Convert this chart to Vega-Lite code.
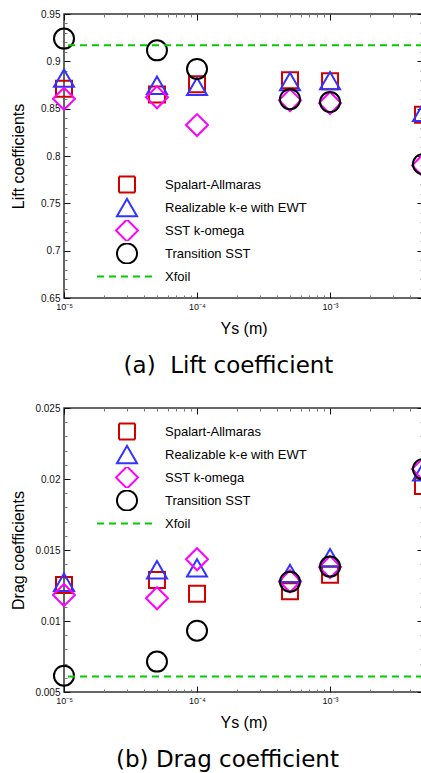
{
  "$schema": "https://vega.github.io/schema/vega-lite/v6.json",
  "padding": {"left": 9, "top": 8, "right": 0, "bottom": 0},
  "background": "white",
  "spacing": 23,
  "config": {
    "font": "Liberation Sans",
    "view": {"stroke": "#333", "strokeWidth": 1.5},
    "axis": {"grid": false, "domain": false, "labelFont": "Liberation Sans", "labelFontSize": 10, "labelColor": "#111", "titleFont": "Liberation Sans", "titleFontSize": 16, "titleFontWeight": "normal", "titleColor": "#000", "labelFlush": false, "labelOverlap": false},
    "legend": {"labelFont": "Liberation Sans", "labelFontSize": 13, "labelColor": "#000", "symbolStrokeWidth": 2, "labelOffset": 26, "symbolOffset": 20, "rowPadding": 2, "clipHeight": 21}
  },
  "datasets": {
    "lift": [
      {"model": "Spalart-Allmaras", "ys": 0.00001, "value": 0.871},
      {"model": "Spalart-Allmaras", "ys": 0.00005, "value": 0.865},
      {"model": "Spalart-Allmaras", "ys": 0.0001, "value": 0.8757},
      {"model": "Spalart-Allmaras", "ys": 0.0005, "value": 0.880},
      {"model": "Spalart-Allmaras", "ys": 0.001, "value": 0.879},
      {"model": "Spalart-Allmaras", "ys": 0.005, "value": 0.8436},
      {"model": "Realizable k-e with EWT", "ys": 0.00001, "value": 0.8823},
      {"model": "Realizable k-e with EWT", "ys": 0.00005, "value": 0.8747},
      {"model": "Realizable k-e with EWT", "ys": 0.0001, "value": 0.8736},
      {"model": "Realizable k-e with EWT", "ys": 0.0005, "value": 0.8787},
      {"model": "Realizable k-e with EWT", "ys": 0.001, "value": 0.8797},
      {"model": "Realizable k-e with EWT", "ys": 0.005, "value": 0.846},
      {"model": "SST k-omega", "ys": 0.00001, "value": 0.8605},
      {"model": "SST k-omega", "ys": 0.00005, "value": 0.862},
      {"model": "SST k-omega", "ys": 0.0001, "value": 0.8327},
      {"model": "SST k-omega", "ys": 0.0005, "value": 0.859},
      {"model": "SST k-omega", "ys": 0.001, "value": 0.856},
      {"model": "SST k-omega", "ys": 0.005, "value": 0.79},
      {"model": "Transition SST", "ys": 0.00001, "value": 0.924},
      {"model": "Transition SST", "ys": 0.00005, "value": 0.9116},
      {"model": "Transition SST", "ys": 0.0001, "value": 0.892},
      {"model": "Transition SST", "ys": 0.0005, "value": 0.860},
      {"model": "Transition SST", "ys": 0.001, "value": 0.857},
      {"model": "Transition SST", "ys": 0.005, "value": 0.7914},
      {"model": "Xfoil", "value": 0.917}
    ],
    "drag": [
      {"model": "Spalart-Allmaras", "ys": 0.00001, "value": 0.01254},
      {"model": "Spalart-Allmaras", "ys": 0.00005, "value": 0.01289},
      {"model": "Spalart-Allmaras", "ys": 0.0001, "value": 0.01192},
      {"model": "Spalart-Allmaras", "ys": 0.0005, "value": 0.0121},
      {"model": "Spalart-Allmaras", "ys": 0.001, "value": 0.01326},
      {"model": "Spalart-Allmaras", "ys": 0.005, "value": 0.0195},
      {"model": "Realizable k-e with EWT", "ys": 0.00001, "value": 0.01273},
      {"model": "Realizable k-e with EWT", "ys": 0.00005, "value": 0.01361},
      {"model": "Realizable k-e with EWT", "ys": 0.0001, "value": 0.01374},
      {"model": "Realizable k-e with EWT", "ys": 0.0005, "value": 0.01336},
      {"model": "Realizable k-e with EWT", "ys": 0.001, "value": 0.01446},
      {"model": "Realizable k-e with EWT", "ys": 0.005, "value": 0.0205},
      {"model": "SST k-omega", "ys": 0.00001, "value": 0.01183},
      {"model": "SST k-omega", "ys": 0.00005, "value": 0.0116},
      {"model": "SST k-omega", "ys": 0.0001, "value": 0.01435},
      {"model": "SST k-omega", "ys": 0.0005, "value": 0.0128},
      {"model": "SST k-omega", "ys": 0.001, "value": 0.0138},
      {"model": "SST k-omega", "ys": 0.005, "value": 0.0207},
      {"model": "Transition SST", "ys": 0.00001, "value": 0.00615},
      {"model": "Transition SST", "ys": 0.00005, "value": 0.00714},
      {"model": "Transition SST", "ys": 0.0001, "value": 0.00932},
      {"model": "Transition SST", "ys": 0.0005, "value": 0.01277},
      {"model": "Transition SST", "ys": 0.001, "value": 0.01383},
      {"model": "Transition SST", "ys": 0.005, "value": 0.0207},
      {"model": "Xfoil", "value": 0.0061}
    ]
  },
  "vconcat": [
    {
      "width": 359, "height": 284,
      "data": {"name": "lift"},
      "title": {"text": "(a)\u00a0 Lift coefficient", "orient": "bottom", "anchor": "middle", "frame": "group", "fontSize": 23, "fontWeight": "normal", "font": "DejaVu Sans", "color": "#000", "dx": -15, "offset": 19},
      "layer": [
        {
          "transform": [{"filter": "datum.model == 'Spalart-Allmaras'"}],
          "mark": {"type": "point", "filled": false, "strokeWidth": 2, "opacity": 1},
          "encoding": {
            "x": {"field": "ys", "type": "quantitative", "scale": {"type": "log", "domain": [0.00001, 0.005], "nice": false},
              "axis": {"orient": "bottom", "title": "Ys (m)", "titlePadding": 6, "labelFontSize": 9, "values": [0.00001,0.00002,0.00003,0.00004,0.00005,0.00006,0.00007,0.00008,0.00009,0.0001,0.0002,0.0003,0.0004,0.0005,0.0006,0.0007,0.0008,0.0009,0.001,0.002,0.003,0.004,0.005],
                "tickSize": {"condition": {"test": "abs(log(datum.value)/LN10 - round(log(datum.value)/LN10)) < 0.001", "value": -6}, "value": -3},
                "tickColor": {"condition": {"test": "abs(log(datum.value)/LN10 - round(log(datum.value)/LN10)) < 0.001", "value": "#111"}, "value": "#777"},
                "labelPadding": 10,
                "labelExpr": "datum.value < 0.000015 ? '10⁻⁵' : (abs(datum.value - 0.0001) < 0.000001 ? '10⁻⁴' : (abs(datum.value - 0.001) < 0.00001 ? '10⁻³' : ''))"}},
            "y": {"field": "value", "type": "quantitative", "scale": {"domain": [0.65, 0.95], "nice": false, "zero": false},
              "axis": {"orient": "left", "title": "Lift coefficients", "titlePadding": 8, "format": "~g", "minExtent": 30, "maxExtent": 30,
                "values": [0.65,0.66,0.67,0.68,0.69,0.7,0.71,0.72,0.73,0.74,0.75,0.76,0.77,0.78,0.79,0.8,0.81,0.82,0.83,0.84,0.85,0.86,0.87,0.88,0.89,0.9,0.91,0.92,0.93,0.94,0.95],
                "tickSize": {"condition": {"test": "abs(datum.value*20 - round(datum.value*20)) < 0.001", "value": -6}, "value": -3},
                "tickColor": {"condition": {"test": "abs(datum.value*20 - round(datum.value*20)) < 0.001", "value": "#111"}, "value": "#777"},
                "labelPadding": 10,
                "labelExpr": "abs(datum.value*20 - round(datum.value*20)) < 0.001 ? datum.label : ''"}},
            "color": {"field": "model", "type": "nominal", "scale": {"domain": ["Spalart-Allmaras", "Realizable k-e with EWT", "SST k-omega", "Transition SST", "Xfoil"], "range": ["#d00000", "#3333ff", "#ff00ff", "#000000", "#00cc00"]},
              "legend": {"title": null, "orient": "none", "legendX": 31, "legendY": 160}},
            "shape": {"field": "model", "type": "nominal", "scale": {"domain": ["Spalart-Allmaras", "Realizable k-e with EWT", "SST k-omega", "Transition SST", "Xfoil"], "range": ["square", "triangle-up", "diamond", "circle", "M-3,0H3"]}},
            "size": {"field": "model", "type": "nominal", "scale": {"type": "ordinal", "domain": ["Spalart-Allmaras", "Realizable k-e with EWT", "SST k-omega", "Transition SST", "Xfoil"], "range": [256, 400, 484, 400, 400]}}
          }
        },
        {
          "transform": [{"filter": "datum.model == 'Realizable k-e with EWT'"}],
          "mark": {"type": "point", "filled": false, "strokeWidth": 2, "opacity": 1},
          "encoding": {
            "x": {"field": "ys", "type": "quantitative", "scale": {"type": "log", "domain": [0.00001, 0.005], "nice": false},
              "axis": {"orient": "top", "title": null, "labels": false, "values": [0.00001,0.00002,0.00003,0.00004,0.00005,0.00006,0.00007,0.00008,0.00009,0.0001,0.0002,0.0003,0.0004,0.0005,0.0006,0.0007,0.0008,0.0009,0.001,0.002,0.003,0.004,0.005],
                "tickSize": {"condition": {"test": "abs(log(datum.value)/LN10 - round(log(datum.value)/LN10)) < 0.001", "value": -6}, "value": -3},
                "tickColor": {"condition": {"test": "abs(log(datum.value)/LN10 - round(log(datum.value)/LN10)) < 0.001", "value": "#111"}, "value": "#777"}}},
            "y": {"field": "value", "type": "quantitative", "scale": {"domain": [0.65, 0.95], "nice": false, "zero": false},
              "axis": {"orient": "right", "title": null, "labels": false,
                "values": [0.65,0.66,0.67,0.68,0.69,0.7,0.71,0.72,0.73,0.74,0.75,0.76,0.77,0.78,0.79,0.8,0.81,0.82,0.83,0.84,0.85,0.86,0.87,0.88,0.89,0.9,0.91,0.92,0.93,0.94,0.95],
                "tickSize": {"condition": {"test": "abs(datum.value*20 - round(datum.value*20)) < 0.001", "value": -6}, "value": -3},
                "tickColor": {"condition": {"test": "abs(datum.value*20 - round(datum.value*20)) < 0.001", "value": "#111"}, "value": "#777"}}},
            "color": {"field": "model", "type": "nominal", "scale": {"domain": ["Spalart-Allmaras", "Realizable k-e with EWT", "SST k-omega", "Transition SST", "Xfoil"], "range": ["#d00000", "#3333ff", "#ff00ff", "#000000", "#00cc00"]}},
            "shape": {"field": "model", "type": "nominal", "scale": {"domain": ["Spalart-Allmaras", "Realizable k-e with EWT", "SST k-omega", "Transition SST", "Xfoil"], "range": ["square", "triangle-up", "diamond", "circle", "M-3,0H3"]}},
            "size": {"field": "model", "type": "nominal", "scale": {"type": "ordinal", "domain": ["Spalart-Allmaras", "Realizable k-e with EWT", "SST k-omega", "Transition SST", "Xfoil"], "range": [256, 400, 484, 400, 400]}}
          }
        },
        {
          "transform": [{"filter": "datum.model == 'SST k-omega'"}],
          "mark": {"type": "point", "filled": false, "strokeWidth": 2, "opacity": 1},
          "encoding": {
            "x": {"field": "ys", "type": "quantitative", "scale": {"type": "log", "domain": [0.00001, 0.005], "nice": false}, "axis": null},
            "y": {"field": "value", "type": "quantitative", "scale": {"domain": [0.65, 0.95], "nice": false, "zero": false}, "axis": null},
            "color": {"field": "model", "type": "nominal", "scale": {"domain": ["Spalart-Allmaras", "Realizable k-e with EWT", "SST k-omega", "Transition SST", "Xfoil"], "range": ["#d00000", "#3333ff", "#ff00ff", "#000000", "#00cc00"]}},
            "shape": {"field": "model", "type": "nominal", "scale": {"domain": ["Spalart-Allmaras", "Realizable k-e with EWT", "SST k-omega", "Transition SST", "Xfoil"], "range": ["square", "triangle-up", "diamond", "circle", "M-3,0H3"]}},
            "size": {"field": "model", "type": "nominal", "scale": {"type": "ordinal", "domain": ["Spalart-Allmaras", "Realizable k-e with EWT", "SST k-omega", "Transition SST", "Xfoil"], "range": [256, 400, 484, 400, 400]}}
          }
        },
        {
          "transform": [{"filter": "datum.model == 'Transition SST'"}],
          "mark": {"type": "point", "filled": false, "strokeWidth": 2, "opacity": 1},
          "encoding": {
            "x": {"field": "ys", "type": "quantitative", "scale": {"type": "log", "domain": [0.00001, 0.005], "nice": false}, "axis": null},
            "y": {"field": "value", "type": "quantitative", "scale": {"domain": [0.65, 0.95], "nice": false, "zero": false}, "axis": null},
            "color": {"field": "model", "type": "nominal", "scale": {"domain": ["Spalart-Allmaras", "Realizable k-e with EWT", "SST k-omega", "Transition SST", "Xfoil"], "range": ["#d00000", "#3333ff", "#ff00ff", "#000000", "#00cc00"]}},
            "shape": {"field": "model", "type": "nominal", "scale": {"domain": ["Spalart-Allmaras", "Realizable k-e with EWT", "SST k-omega", "Transition SST", "Xfoil"], "range": ["square", "triangle-up", "diamond", "circle", "M-3,0H3"]}},
            "size": {"field": "model", "type": "nominal", "scale": {"type": "ordinal", "domain": ["Spalart-Allmaras", "Realizable k-e with EWT", "SST k-omega", "Transition SST", "Xfoil"], "range": [256, 400, 484, 400, 400]}}
          }
        },
        {
          "transform": [{"filter": "datum.model == 'Xfoil'"}],
          "mark": {"type": "rule", "strokeWidth": 2},
          "encoding": {
            "y": {"field": "value", "type": "quantitative", "scale": {"domain": [0.65, 0.95], "nice": false, "zero": false}, "axis": null},
            "color": {"field": "model", "type": "nominal", "scale": {"domain": ["Spalart-Allmaras", "Realizable k-e with EWT", "SST k-omega", "Transition SST", "Xfoil"], "range": ["#d00000", "#3333ff", "#ff00ff", "#000000", "#00cc00"]}},
            "strokeDash": {"field": "model", "type": "nominal", "scale": {"domain": ["Spalart-Allmaras", "Realizable k-e with EWT", "SST k-omega", "Transition SST", "Xfoil"], "range": [[1,0],[1,0],[1,0],[1,0],[7,5]]}}
          }
        }
      ],
      "resolve": {"axis": {"x": "independent", "y": "independent"}}
    },
    {
      "width": 359, "height": 284,
      "data": {"name": "drag"},
      "title": {"text": "(b) Drag coefficient", "orient": "bottom", "anchor": "middle", "frame": "group", "fontSize": 23, "fontWeight": "normal", "font": "DejaVu Sans", "color": "#000", "dx": -16, "offset": 19},
      "layer": [
        {
          "transform": [{"filter": "datum.model == 'Spalart-Allmaras'"}],
          "mark": {"type": "point", "filled": false, "strokeWidth": 2, "opacity": 1},
          "encoding": {
            "x": {"field": "ys", "type": "quantitative", "scale": {"type": "log", "domain": [0.00001, 0.005], "nice": false},
              "axis": {"orient": "bottom", "title": "Ys (m)", "titlePadding": 6, "labelFontSize": 9, "values": [0.00001,0.00002,0.00003,0.00004,0.00005,0.00006,0.00007,0.00008,0.00009,0.0001,0.0002,0.0003,0.0004,0.0005,0.0006,0.0007,0.0008,0.0009,0.001,0.002,0.003,0.004,0.005],
                "tickSize": {"condition": {"test": "abs(log(datum.value)/LN10 - round(log(datum.value)/LN10)) < 0.001", "value": -6}, "value": -3},
                "tickColor": {"condition": {"test": "abs(log(datum.value)/LN10 - round(log(datum.value)/LN10)) < 0.001", "value": "#111"}, "value": "#777"},
                "labelPadding": 10,
                "labelExpr": "datum.value < 0.000015 ? '10⁻⁵' : (abs(datum.value - 0.0001) < 0.000001 ? '10⁻⁴' : (abs(datum.value - 0.001) < 0.00001 ? '10⁻³' : ''))"}},
            "y": {"field": "value", "type": "quantitative", "scale": {"domain": [0.005, 0.025], "nice": false, "zero": false},
              "axis": {"orient": "left", "title": "Drag coefficients", "titlePadding": 8, "format": "~g", "minExtent": 30, "maxExtent": 30,
                "values": [0.005,0.006,0.007,0.008,0.009,0.01,0.011,0.012,0.013,0.014,0.015,0.016,0.017,0.018,0.019,0.02,0.021,0.022,0.023,0.024,0.025],
                "tickSize": {"condition": {"test": "abs(datum.value*200 - round(datum.value*200)) < 0.001", "value": -6}, "value": -3},
                "tickColor": {"condition": {"test": "abs(datum.value*200 - round(datum.value*200)) < 0.001", "value": "#111"}, "value": "#777"},
                "labelPadding": 10,
                "labelExpr": "abs(datum.value*200 - round(datum.value*200)) < 0.001 ? datum.label : ''"}},
            "color": {"field": "model", "type": "nominal", "scale": {"domain": ["Spalart-Allmaras", "Realizable k-e with EWT", "SST k-omega", "Transition SST", "Xfoil"], "range": ["#d00000", "#3333ff", "#ff00ff", "#000000", "#00cc00"]},
              "legend": {"title": null, "orient": "none", "legendX": 31, "legendY": 13}},
            "shape": {"field": "model", "type": "nominal", "scale": {"domain": ["Spalart-Allmaras", "Realizable k-e with EWT", "SST k-omega", "Transition SST", "Xfoil"], "range": ["square", "triangle-up", "diamond", "circle", "M-3,0H3"]}},
            "size": {"field": "model", "type": "nominal", "scale": {"type": "ordinal", "domain": ["Spalart-Allmaras", "Realizable k-e with EWT", "SST k-omega", "Transition SST", "Xfoil"], "range": [256, 400, 484, 400, 400]}}
          }
        },
        {
          "transform": [{"filter": "datum.model == 'Realizable k-e with EWT'"}],
          "mark": {"type": "point", "filled": false, "strokeWidth": 2, "opacity": 1},
          "encoding": {
            "x": {"field": "ys", "type": "quantitative", "scale": {"type": "log", "domain": [0.00001, 0.005], "nice": false},
              "axis": {"orient": "top", "title": null, "labels": false, "values": [0.00001,0.00002,0.00003,0.00004,0.00005,0.00006,0.00007,0.00008,0.00009,0.0001,0.0002,0.0003,0.0004,0.0005,0.0006,0.0007,0.0008,0.0009,0.001,0.002,0.003,0.004,0.005],
                "tickSize": {"condition": {"test": "abs(log(datum.value)/LN10 - round(log(datum.value)/LN10)) < 0.001", "value": -6}, "value": -3},
                "tickColor": {"condition": {"test": "abs(log(datum.value)/LN10 - round(log(datum.value)/LN10)) < 0.001", "value": "#111"}, "value": "#777"}}},
            "y": {"field": "value", "type": "quantitative", "scale": {"domain": [0.005, 0.025], "nice": false, "zero": false},
              "axis": {"orient": "right", "title": null, "labels": false,
                "values": [0.005,0.006,0.007,0.008,0.009,0.01,0.011,0.012,0.013,0.014,0.015,0.016,0.017,0.018,0.019,0.02,0.021,0.022,0.023,0.024,0.025],
                "tickSize": {"condition": {"test": "abs(datum.value*200 - round(datum.value*200)) < 0.001", "value": -6}, "value": -3},
                "tickColor": {"condition": {"test": "abs(datum.value*200 - round(datum.value*200)) < 0.001", "value": "#111"}, "value": "#777"}}},
            "color": {"field": "model", "type": "nominal", "scale": {"domain": ["Spalart-Allmaras", "Realizable k-e with EWT", "SST k-omega", "Transition SST", "Xfoil"], "range": ["#d00000", "#3333ff", "#ff00ff", "#000000", "#00cc00"]}},
            "shape": {"field": "model", "type": "nominal", "scale": {"domain": ["Spalart-Allmaras", "Realizable k-e with EWT", "SST k-omega", "Transition SST", "Xfoil"], "range": ["square", "triangle-up", "diamond", "circle", "M-3,0H3"]}},
            "size": {"field": "model", "type": "nominal", "scale": {"type": "ordinal", "domain": ["Spalart-Allmaras", "Realizable k-e with EWT", "SST k-omega", "Transition SST", "Xfoil"], "range": [256, 400, 484, 400, 400]}}
          }
        },
        {
          "transform": [{"filter": "datum.model == 'SST k-omega'"}],
          "mark": {"type": "point", "filled": false, "strokeWidth": 2, "opacity": 1},
          "encoding": {
            "x": {"field": "ys", "type": "quantitative", "scale": {"type": "log", "domain": [0.00001, 0.005], "nice": false}, "axis": null},
            "y": {"field": "value", "type": "quantitative", "scale": {"domain": [0.005, 0.025], "nice": false, "zero": false}, "axis": null},
            "color": {"field": "model", "type": "nominal", "scale": {"domain": ["Spalart-Allmaras", "Realizable k-e with EWT", "SST k-omega", "Transition SST", "Xfoil"], "range": ["#d00000", "#3333ff", "#ff00ff", "#000000", "#00cc00"]}},
            "shape": {"field": "model", "type": "nominal", "scale": {"domain": ["Spalart-Allmaras", "Realizable k-e with EWT", "SST k-omega", "Transition SST", "Xfoil"], "range": ["square", "triangle-up", "diamond", "circle", "M-3,0H3"]}},
            "size": {"field": "model", "type": "nominal", "scale": {"type": "ordinal", "domain": ["Spalart-Allmaras", "Realizable k-e with EWT", "SST k-omega", "Transition SST", "Xfoil"], "range": [256, 400, 484, 400, 400]}}
          }
        },
        {
          "transform": [{"filter": "datum.model == 'Transition SST'"}],
          "mark": {"type": "point", "filled": false, "strokeWidth": 2, "opacity": 1},
          "encoding": {
            "x": {"field": "ys", "type": "quantitative", "scale": {"type": "log", "domain": [0.00001, 0.005], "nice": false}, "axis": null},
            "y": {"field": "value", "type": "quantitative", "scale": {"domain": [0.005, 0.025], "nice": false, "zero": false}, "axis": null},
            "color": {"field": "model", "type": "nominal", "scale": {"domain": ["Spalart-Allmaras", "Realizable k-e with EWT", "SST k-omega", "Transition SST", "Xfoil"], "range": ["#d00000", "#3333ff", "#ff00ff", "#000000", "#00cc00"]}},
            "shape": {"field": "model", "type": "nominal", "scale": {"domain": ["Spalart-Allmaras", "Realizable k-e with EWT", "SST k-omega", "Transition SST", "Xfoil"], "range": ["square", "triangle-up", "diamond", "circle", "M-3,0H3"]}},
            "size": {"field": "model", "type": "nominal", "scale": {"type": "ordinal", "domain": ["Spalart-Allmaras", "Realizable k-e with EWT", "SST k-omega", "Transition SST", "Xfoil"], "range": [256, 400, 484, 400, 400]}}
          }
        },
        {
          "transform": [{"filter": "datum.model == 'Xfoil'"}],
          "mark": {"type": "rule", "strokeWidth": 2},
          "encoding": {
            "y": {"field": "value", "type": "quantitative", "scale": {"domain": [0.005, 0.025], "nice": false, "zero": false}, "axis": null},
            "color": {"field": "model", "type": "nominal", "scale": {"domain": ["Spalart-Allmaras", "Realizable k-e with EWT", "SST k-omega", "Transition SST", "Xfoil"], "range": ["#d00000", "#3333ff", "#ff00ff", "#000000", "#00cc00"]}},
            "strokeDash": {"field": "model", "type": "nominal", "scale": {"domain": ["Spalart-Allmaras", "Realizable k-e with EWT", "SST k-omega", "Transition SST", "Xfoil"], "range": [[1,0],[1,0],[1,0],[1,0],[7,5]]}}
          }
        }
      ],
      "resolve": {"axis": {"x": "independent", "y": "independent"}}
    }
  ],
  "resolve": {"scale": {"x": "independent", "y": "independent", "color": "independent", "shape": "independent", "size": "independent", "strokeDash": "independent"}}
}
